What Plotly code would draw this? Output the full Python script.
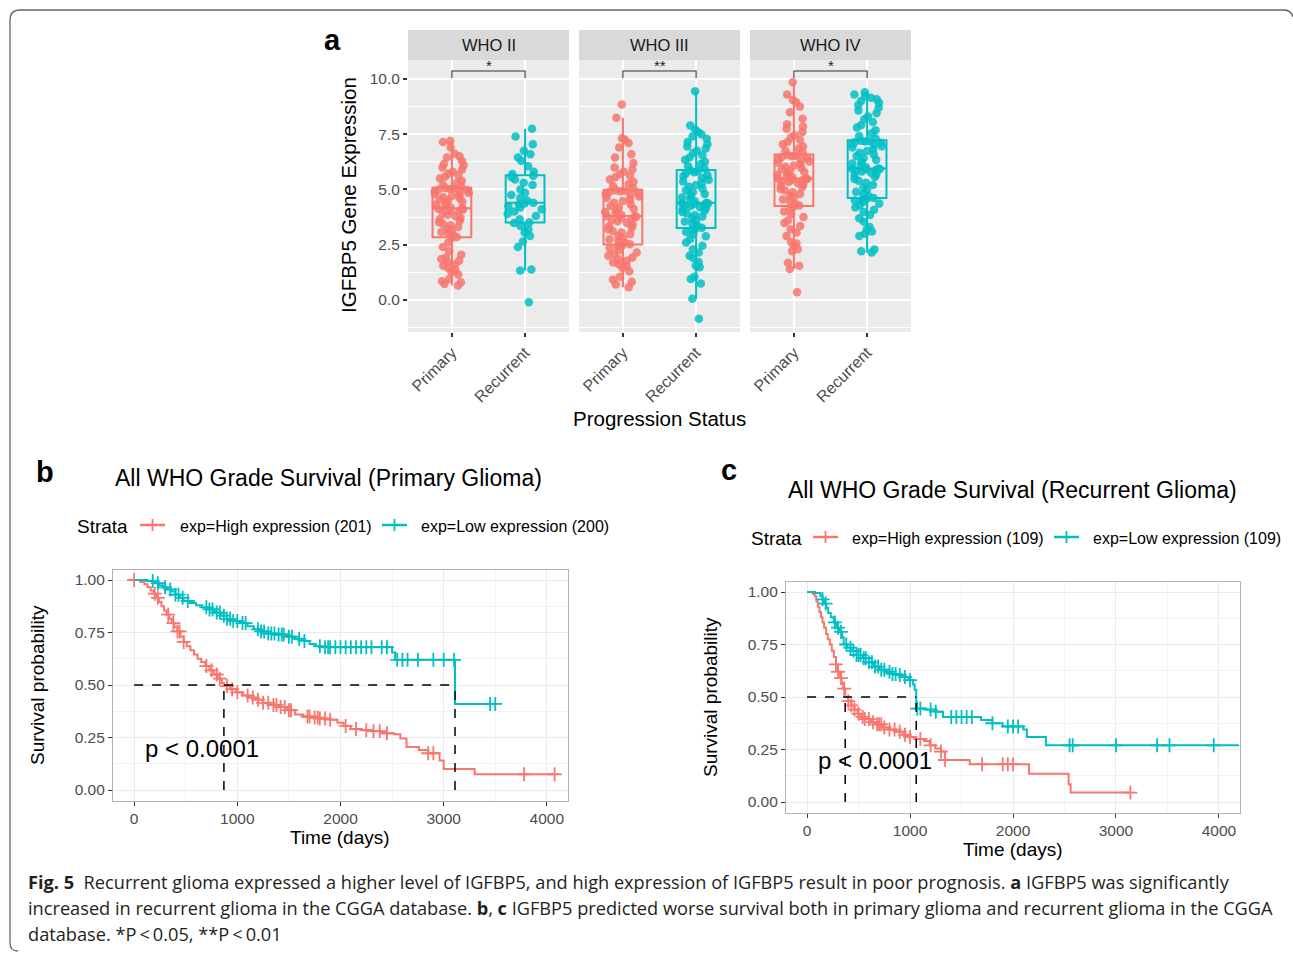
import numpy as np
import plotly.graph_objects as go

W, H = 1293, 953
RED = "#F8766D"
TEAL = "#00BFC4"
FONT = "Liberation Sans, Arial, sans-serif"
CAPFONT = "Open Sans, Noto Sans, sans-serif"

# ---------------- Panel a data ----------------
grades = ["WHO II", "WHO III", "WHO IV"]
groups = ["Primary", "Recurrent"]
signif = ["*", "**", "*"]
y_ticks_a = [0, 2.5, 5, 7.5, 10]

who2_primary = [0.65, 0.72, 0.80, 0.85, 0.95, 1.15, 1.25, 1.35, 1.45, 1.55, 1.62, 1.70, 1.78, 1.85, 1.92, 2.05, 2.20, 2.40, 2.60, 2.80,
                2.85, 2.92, 3.00, 3.08, 3.15, 3.22, 3.30, 3.38, 3.45, 3.52, 3.58, 3.65, 3.72, 3.80, 3.86, 3.92, 3.98, 4.04, 4.09, 4.13,
                4.15,
                4.20, 4.26, 4.32, 4.38, 4.44, 4.50, 4.55, 4.60, 4.65, 4.70, 4.75, 4.80, 4.84, 4.88, 4.92, 4.96, 4.99, 5.02, 5.04, 5.06,
                5.12, 5.20, 5.30, 5.40, 5.50, 5.58, 5.65, 5.72, 5.80, 5.90, 6.00, 6.10, 6.15, 6.30, 6.45, 6.50, 6.62, 6.90, 7.15, 7.20]
who2_recurrent = [-0.10, 1.33, 1.38, 2.40, 2.65, 2.90, 3.05, 3.20, 3.35, 3.48,
                  3.52, 3.65, 3.80, 3.90, 4.00, 4.10, 4.18, 4.25, 4.32, 4.37,
                  4.40,
                  4.50, 4.62, 4.75, 4.85, 5.00, 5.20, 5.30, 5.45, 5.55, 5.62,
                  5.70, 5.80, 6.05, 6.30, 6.45, 6.60, 6.75, 7.05, 7.40, 7.75]
who3_primary = [0.58, 0.70, 0.82, 0.92, 1.05, 1.30, 1.45, 1.55, 1.62, 1.70, 1.78, 1.85, 1.92, 2.00, 2.08, 2.15, 2.25, 2.35, 2.42, 2.48,
                2.52, 2.60, 2.68, 2.75, 2.82, 2.90, 2.98, 3.05, 3.12, 3.20, 3.28, 3.35, 3.42, 3.50, 3.56, 3.62, 3.68, 3.72, 3.76, 3.79,
                3.80,
                3.86, 3.92, 3.98, 4.05, 4.12, 4.18, 4.25, 4.32, 4.40, 4.48, 4.55, 4.62, 4.68, 4.74, 4.80, 4.85, 4.89, 4.92, 4.94, 4.96,
                5.05, 5.15, 5.25, 5.35, 5.45, 5.55, 5.62, 5.70, 5.80, 5.90, 6.00, 6.20, 6.45, 6.60, 6.90, 7.10, 7.25, 7.32, 8.25, 8.85]
who3_recurrent = [-0.85, 0.05, 0.75, 0.95, 1.05, 1.48, 1.55, 1.72, 1.90, 2.00, 2.15, 2.30, 2.45, 2.60, 2.75, 2.88, 2.98, 3.08, 3.18, 3.23,
                  3.27, 3.35, 3.45, 3.55, 3.62, 3.70, 3.78, 3.85, 3.92, 3.98, 4.04, 4.10, 4.15, 4.20, 4.25, 4.29, 4.32, 4.35, 4.37, 4.39,
                  4.40,
                  4.48, 4.56, 4.64, 4.72, 4.80, 4.88, 4.96, 5.04, 5.12, 5.20, 5.28, 5.36, 5.44, 5.52, 5.60, 5.66, 5.72, 5.78, 5.82, 5.86,
                  5.95, 6.05, 6.15, 6.25, 6.35, 6.45, 6.55, 6.65, 6.75, 6.85, 6.95, 7.05, 7.15, 7.30, 7.40, 7.50, 7.60, 7.70, 7.90, 9.45]
who4_primary = [0.35, 1.40, 1.55, 1.68, 2.20, 2.30, 2.45, 2.55, 2.62, 2.90, 3.05, 3.20, 3.35, 3.48, 3.60, 3.75, 3.88, 4.00, 4.12, 4.22,
                4.27, 4.35, 4.45, 4.55, 4.65, 4.72, 4.80, 4.88, 4.95, 5.02, 5.10, 5.17, 5.23, 5.29, 5.34, 5.38, 5.42, 5.45, 5.47, 5.49,
                5.50,
                5.55, 5.61, 5.67, 5.73, 5.79, 5.85, 5.91, 5.97, 6.03, 6.09, 6.15, 6.21, 6.27, 6.33, 6.38, 6.43, 6.47, 6.50, 6.53, 6.56,
                6.65, 6.75, 6.85, 6.95, 7.05, 7.15, 7.25, 7.35, 7.45, 7.60, 7.75, 7.85, 7.95, 8.20, 8.50, 8.75, 8.95, 9.05, 9.30, 9.85]
who4_recurrent = [2.15, 2.20, 2.28, 2.90, 3.00, 3.10, 3.20, 3.30, 3.55, 3.70, 3.85, 3.98, 4.08, 4.18, 4.28, 4.36, 4.44, 4.50, 4.55, 4.58,
                  4.62, 4.70, 4.80, 4.90, 5.00, 5.10, 5.20, 5.30, 5.40, 5.48, 5.56, 5.63, 5.70, 5.76, 5.81, 5.85, 5.88, 5.91, 5.93, 5.94,
                  5.95,
                  6.02, 6.10, 6.18, 6.26, 6.34, 6.42, 6.50, 6.58, 6.66, 6.74, 6.82, 6.90, 6.96, 7.02, 7.07, 7.11, 7.14, 7.17, 7.19, 7.21,
                  7.30, 7.42, 7.55, 7.68, 7.80, 7.92, 8.05, 8.18, 8.30, 8.45, 8.58, 8.70, 8.82, 8.92, 9.00, 9.08, 9.15, 9.22, 9.30, 9.40]

# ---------------- Panel b data (primary glioma) ----------------
b_high_t = [0, 60, 100, 130, 160, 190, 215, 240, 265, 290, 315, 340, 365, 390, 420, 450, 480, 510, 545, 580,
            615, 650, 690, 730, 770, 810, 850, 870, 930, 990, 1050, 1110, 1180, 1250, 1320, 1400, 1480, 1560, 1640, 1720,
            1800, 1900, 1970, 2030, 2100, 2200, 2300, 2400, 2520, 2580, 2640, 2760, 2850, 2960, 3000, 3300, 4075]
b_high_s = [1.0, 0.99, 0.98, 0.965, 0.95, 0.935, 0.915, 0.895, 0.875, 0.855, 0.835, 0.815, 0.795, 0.775, 0.755, 0.73, 0.705, 0.685, 0.665, 0.645,
            0.625, 0.61, 0.59, 0.57, 0.55, 0.53, 0.51, 0.495, 0.48, 0.465, 0.45, 0.44, 0.43, 0.415, 0.405, 0.395, 0.38, 0.36, 0.35, 0.345,
            0.34, 0.335, 0.32, 0.305, 0.29, 0.285, 0.28, 0.27, 0.265, 0.245, 0.205, 0.19, 0.175, 0.14, 0.10, 0.075, 0.075]
b_high_cens = [0, 200, 230, 330, 380, 420, 440, 480, 700, 750, 800, 830, 900, 950, 1000, 1100, 1150, 1200, 1250, 1300,
               1350, 1380, 1420, 1460, 1500, 1520, 1680, 1700, 1750, 1780, 1800, 1850, 1900, 2050, 2150, 2250, 2320, 2380,
               2450, 2850, 2900, 3780, 4075]
b_low_t = [0, 130, 200, 240, 280, 320, 360, 400, 440, 480, 540, 600, 660, 720, 780, 840, 900, 960, 1040, 1100,
           1160, 1220, 1300, 1380, 1480, 1560, 1640, 1700, 1760, 1820, 2500, 2530, 3110, 3500]
b_low_s = [1.0, 0.995, 0.985, 0.975, 0.965, 0.955, 0.945, 0.93, 0.915, 0.90, 0.89, 0.88, 0.87, 0.86, 0.845, 0.83, 0.815, 0.805, 0.795, 0.78,
           0.765, 0.755, 0.745, 0.74, 0.73, 0.72, 0.71, 0.695, 0.685, 0.68, 0.655, 0.62, 0.41, 0.41]
b_low_cens = [180, 230, 300, 350, 400, 430, 470, 520, 700, 730, 760, 800, 830, 870, 900, 930, 960, 1000, 1050, 1080,
              1200, 1230, 1260, 1300, 1330, 1360, 1400, 1430, 1450, 1500, 1530, 1600, 1650, 1800, 1850, 1880, 1900, 1950,
              2000, 2050, 2100, 2150, 2200, 2250, 2300, 2400, 2450, 2550, 2600, 2650, 2750, 2900, 3000, 3100, 3450, 3500]

# ---------------- Panel c data (recurrent glioma) ----------------
c_high_t = [0, 55, 75, 90, 105, 120, 135, 150, 165, 185, 200, 220, 240, 260, 280, 300, 320, 335, 350, 370,
            400, 430, 460, 490, 520, 560, 620, 680, 740, 800, 870, 930, 985, 1060, 1135, 1190, 1245, 1300, 1340, 1580,
            2155, 2540, 2560, 3140]
c_high_s = [1.0, 0.99, 0.98, 0.955, 0.93, 0.905, 0.88, 0.855, 0.83, 0.80, 0.775, 0.75, 0.72, 0.69, 0.655, 0.62, 0.59, 0.565, 0.54, 0.50,
            0.48, 0.46, 0.44, 0.42, 0.405, 0.395, 0.38, 0.37, 0.355, 0.345, 0.335, 0.32, 0.31, 0.30, 0.29, 0.27, 0.255, 0.24, 0.20, 0.18,
            0.135, 0.085, 0.045, 0.045]
c_high_cens = [280, 300, 330, 360, 400, 430, 460, 500, 540, 560, 600, 640, 680, 700, 720, 750, 800, 850, 900, 950,
               1000, 1100, 1200, 1300, 1340, 1700, 1900, 1950, 2000, 3140]
c_low_t = [0, 75, 130, 150, 165, 185, 205, 230, 260, 290, 315, 340, 355, 390, 430, 480, 540, 600, 650, 700,
           760, 820, 875, 930, 985, 1030, 1045, 1060, 1150, 1245, 1320, 1690, 1800, 1900, 2100, 2135, 2320, 4195]
c_low_s = [1.0, 0.995, 0.98, 0.965, 0.945, 0.925, 0.90, 0.88, 0.855, 0.83, 0.81, 0.785, 0.75, 0.735, 0.72, 0.70, 0.685, 0.665, 0.645, 0.63,
           0.62, 0.61, 0.605, 0.595, 0.58, 0.56, 0.535, 0.445, 0.44, 0.43, 0.405, 0.39, 0.375, 0.36, 0.345, 0.31, 0.27, 0.27]
c_low_cens = [150, 180, 270, 300, 330, 380, 420, 450, 480, 500, 520, 550, 570, 600, 630, 660, 690, 720, 750, 800,
              830, 860, 900, 950, 1000, 1070, 1100, 1200, 1250, 1400, 1450, 1500, 1550, 1600, 1800, 1950, 2000, 2050,
              2550, 2580, 3000, 3400, 3520, 3950]

b_labels = ["exp=High expression (201)", "exp=Low expression (200)"]
c_labels = ["exp=High expression (109)", "exp=Low expression (109)"]
km_xticks = [0, 1000, 2000, 3000, 4000]
km_yticks = [0, 0.25, 0.5, 0.75, 1.0]

assert len(b_high_t) == len(b_high_s) and len(b_low_t) == len(b_low_s)
assert len(c_high_t) == len(c_high_s) and len(c_low_t) == len(c_low_s)


def px(x):
    return x / W


def py(y):
    return 1 - y / H


def step_at(t, s, c):
    t = np.asarray(t, float)
    s = np.asarray(s, float)
    idx = np.searchsorted(t, np.asarray(c, float), side="right") - 1
    return s[np.clip(idx, 0, len(s) - 1)]


def median_time(t, s):
    for ti, si in zip(t, s):
        if si <= 0.5:
            return ti
    return None


fig = go.Figure()
shapes = []
annotations = []


def ann(text, x, y, size, color="black", xanchor="center", yanchor="middle", angle=0, family=FONT):
    annotations.append(dict(text=text, x=px(x), y=py(y), xref="paper", yref="paper", showarrow=False,
                            font=dict(size=size, color=color, family=family), xanchor=xanchor,
                            yanchor=yanchor, textangle=angle))


# ---------------- Panel a ----------------
panel_x = [(408, 569), (579, 740), (750, 911)]
box_data = [(who2_primary, who2_recurrent), (who3_primary, who3_recurrent), (who4_primary, who4_recurrent)]
tick_font = dict(size=15.5, color="#4D4D4D", family=FONT)

for i, (grade, (prim, rec)) in enumerate(zip(grades, box_data)):
    ax = "" if i == 0 else str(i + 1)
    for j, (vals, col) in enumerate([(prim, RED), (rec, TEAL)]):
        fig.add_trace(go.Box(y=vals, x0=j + 1, xaxis="x" + ax, yaxis="y" + ax, width=0.53,
                             boxpoints="all", jitter=1.0, pointpos=0, whiskerwidth=0,
                             fillcolor="rgba(0,0,0,0)", line=dict(color=col, width=2),
                             marker=dict(color=col, size=8.5, opacity=0.85),
                             showlegend=False, hoverinfo="y"))
    x0p, x1p = panel_x[i]
    fig.update_layout(**{
        "xaxis" + ax: dict(domain=[px(x0p), px(x1p)], anchor="y" + ax, type="linear", range=[0.4, 2.6],
                           tickvals=[1, 2], ticktext=groups, tickangle=-45, showgrid=True,
                           gridcolor="white", gridwidth=1.8, zeroline=False, ticks="outside",
                           ticklen=4, tickwidth=2, tickcolor="#333333",
                           tickfont=dict(size=16, color="#4D4D4D", family=FONT),
                           showline=False, fixedrange=True),
        "yaxis" + ax: dict(domain=[py(332), py(60)], anchor="x" + ax, range=[-1.45, 10.86],
                           tickvals=y_ticks_a, ticktext=[f"{v:.1f}" for v in y_ticks_a],
                           showticklabels=(i == 0), ticks="outside" if i == 0 else "",
                           ticklen=4, tickwidth=1.5, tickcolor="#333333", tickfont=tick_font,
                           showgrid=True, gridcolor="white", gridwidth=1.8, zeroline=False,
                           minor=dict(tickvals=[-1.25, 1.25, 3.75, 6.25, 8.75], showgrid=True,
                                      gridcolor="white", gridwidth=0.8, ticks=""),
                           showline=False, fixedrange=True),
    })
    xr = "x" + ax
    yr = "y" + ax
    shapes.append(dict(type="rect", xref=xr + " domain", yref=yr + " domain", x0=0, x1=1, y0=0, y1=1,
                       fillcolor="#EBEBEB", line=dict(width=0), layer="below"))
    shapes.append(dict(type="rect", xref="paper", yref="paper", x0=px(x0p), x1=px(x1p), y0=py(60), y1=py(30),
                       fillcolor="#D9D9D9", line=dict(width=0), layer="below"))
    ann(grade, (x0p + x1p) / 2, 45.5, 16.5, color="#1A1A1A")
    # significance bracket
    shapes.append(dict(type="path", xref=xr, yref=yr, path="M 1,10.05 L 1,10.36 L 2,10.36 L 2,10.05",
                       line=dict(color="#333333", width=1.1)))
    annotations.append(dict(text=signif[i], x=1.5, y=10.36, xref=xr, yref=yr, showarrow=False,
                            font=dict(size=15, color="#222222", family=FONT), yanchor="bottom",
                            yshift=-5))

ann("<b>a</b>", 332, 40, 29)
ann("IGFBP5 Gene Expression", 348, 195, 20.5, angle=-90)
ann("Progression Status", 659, 418, 20.5)

# ---------------- Panels b & c ----------------
km_sets = [
    dict(ax="4", dom_x=(113, 568), dom_y=(800.5, 569.5),
         curves=[(b_high_t, b_high_s, b_high_cens, RED), (b_low_t, b_low_s, b_low_cens, TEAL)]),
    dict(ax="5", dom_x=(786, 1240), dom_y=(812.5, 581.5),
         curves=[(c_high_t, c_high_s, c_high_cens, RED), (c_low_t, c_low_s, c_low_cens, TEAL)]),
]
for ks in km_sets:
    ax = ks["ax"]
    meds = []
    for t, s, cens, col in ks["curves"]:
        fig.add_trace(go.Scatter(x=t, y=s, mode="lines", line=dict(color=col, width=2, shape="hv"),
                                 xaxis="x" + ax, yaxis="y" + ax, showlegend=False, hoverinfo="skip"))
        fig.add_trace(go.Scatter(x=cens, y=step_at(t, s, cens), mode="markers",
                                 marker=dict(symbol="cross-thin", size=10, color=col,
                                             line=dict(color=col, width=1.8)),
                                 xaxis="x" + ax, yaxis="y" + ax, showlegend=False, hoverinfo="skip"))
        meds.append(median_time(t, s))
    xr, yr = "x" + ax, "y" + ax
    shapes.append(dict(type="line", xref=xr, yref=yr, x0=0, x1=max(meds), y0=0.5, y1=0.5,
                       line=dict(color="black", width=1.5, dash="dash")))
    for m in meds:
        shapes.append(dict(type="line", xref=xr, yref=yr, x0=m, x1=m, y0=0, y1=0.5,
                           line=dict(color="black", width=1.5, dash="dash")))
    annotations.append(dict(text="p &lt; 0.0001", x=87, y=0.2, xref=xr, yref=yr, showarrow=False,
                            xanchor="left", yanchor="middle",
                            font=dict(size=24, color="black", family=FONT)))
    dx, dy = ks["dom_x"], ks["dom_y"]
    fig.update_layout(**{
        "xaxis" + ax: dict(domain=[px(dx[0]), px(dx[1])], anchor=yr, range=[-205, 4205],
                           tickvals=km_xticks, ticktext=[str(v) for v in km_xticks],
                           showgrid=True, gridcolor="#EBEBEB", gridwidth=1, zeroline=False,
                           minor=dict(tickvals=[500, 1500, 2500, 3500], showgrid=True,
                                      gridcolor="#F3F3F3", gridwidth=0.7, ticks=""),
                           showline=True, mirror=True, linecolor="#B3B3B3", linewidth=1.2,
                           ticks="outside", ticklen=4, tickwidth=1.2, tickcolor="#333333",
                           tickfont=tick_font, fixedrange=True),
        "yaxis" + ax: dict(domain=[py(dy[0]), py(dy[1])], anchor=xr, range=[-0.05, 1.05],
                           tickvals=km_yticks, ticktext=[f"{v:.2f}" for v in km_yticks],
                           showgrid=True, gridcolor="#EBEBEB", gridwidth=1, zeroline=False,
                           minor=dict(tickvals=[0.125, 0.375, 0.625, 0.875], showgrid=True,
                                      gridcolor="#F3F3F3", gridwidth=0.7, ticks=""),
                           showline=True, mirror=True, linecolor="#B3B3B3", linewidth=1.2,
                           ticks="outside", ticklen=4, tickwidth=1.2, tickcolor="#333333",
                           tickfont=tick_font, fixedrange=True),
    })

# titles / labels b
ann("<b>b</b>", 45, 472, 29)
ann("All WHO Grade Survival (Primary Glioma)", 113, 478, 23, xanchor="left")
ann("Survival probability", 37, 685, 19, angle=-90)
ann("Time (days)", 340, 837, 19)
# titles / labels c
ann("<b>c</b>", 729, 470, 29)
ann("All WHO Grade Survival (Recurrent Glioma)", 786, 490, 23, xanchor="left")
ann("Survival probability", 710, 697, 19, angle=-90)
ann("Time (days)", 1013, 849, 19)

# legends
legend_specs = [
    (75, 526, [(140, 178, RED, b_labels[0]), (382, 419, TEAL, b_labels[1])]),
    (749, 538, [(813, 850, RED, c_labels[0]), (1054, 1091, TEAL, c_labels[1])]),
]
for sx, sy, items in legend_specs:
    ann("Strata", sx, sy, 19, xanchor="left")
    for gx, tx, col, lab in items:
        shapes.append(dict(type="line", xref="paper", yref="paper", x0=px(gx), x1=px(gx + 25),
                           y0=py(sy - 1), y1=py(sy - 1), line=dict(color=col, width=2.5)))
        shapes.append(dict(type="line", xref="paper", yref="paper", x0=px(gx + 12.5), x1=px(gx + 12.5),
                           y0=py(sy - 7), y1=py(sy + 5), line=dict(color=col, width=1.8)))
        ann(lab, tx, sy, 16, xanchor="left")

# caption
CAPC = "#231F20"
CAPSIZE = 18.2
ann("<b>Fig. 5</b>  Recurrent glioma expressed a higher level of IGFBP5, and high expression of IGFBP5 result in poor prognosis. "
    "<b>a</b> IGFBP5 was significantly", 26, 882, CAPSIZE, color=CAPC, xanchor="left", family=CAPFONT)
ann("increased in recurrent glioma in the CGGA database. <b>b</b>, <b>c</b> IGFBP5 predicted worse survival both in primary "
    "glioma and recurrent glioma in the CGGA", 26, 908, CAPSIZE, color=CAPC, xanchor="left", family=CAPFONT)
ann("database. *P\u2009&lt;\u20090.05, **P\u2009&lt;\u20090.01", 26, 934, CAPSIZE, color=CAPC, xanchor="left", family=CAPFONT)

# outer frame
frame = (f"M {px(18)},{py(951)} Q {px(10)},{py(951)} {px(10)},{py(943)} L {px(10)},{py(20)} "
         f"Q {px(10)},{py(10)} {px(20)},{py(10)} L {px(1284)},{py(10)} Q {px(1291)},{py(10)} {px(1293)},{py(17)}")
shapes.append(dict(type="path", xref="paper", yref="paper", path=frame, line=dict(color="#666666", width=1.3)))

fig.update_layout(width=W, height=H, margin=dict(l=0, r=0, t=0, b=0), paper_bgcolor="white",
                  plot_bgcolor="white", showlegend=False, shapes=shapes, annotations=annotations,
                  font=dict(family=FONT), boxmode="overlay")

fig.write_html("out.html", config={"displayModeBar": False},
               post_script="document.body.style.margin='0';document.body.style.overflow='hidden';")
